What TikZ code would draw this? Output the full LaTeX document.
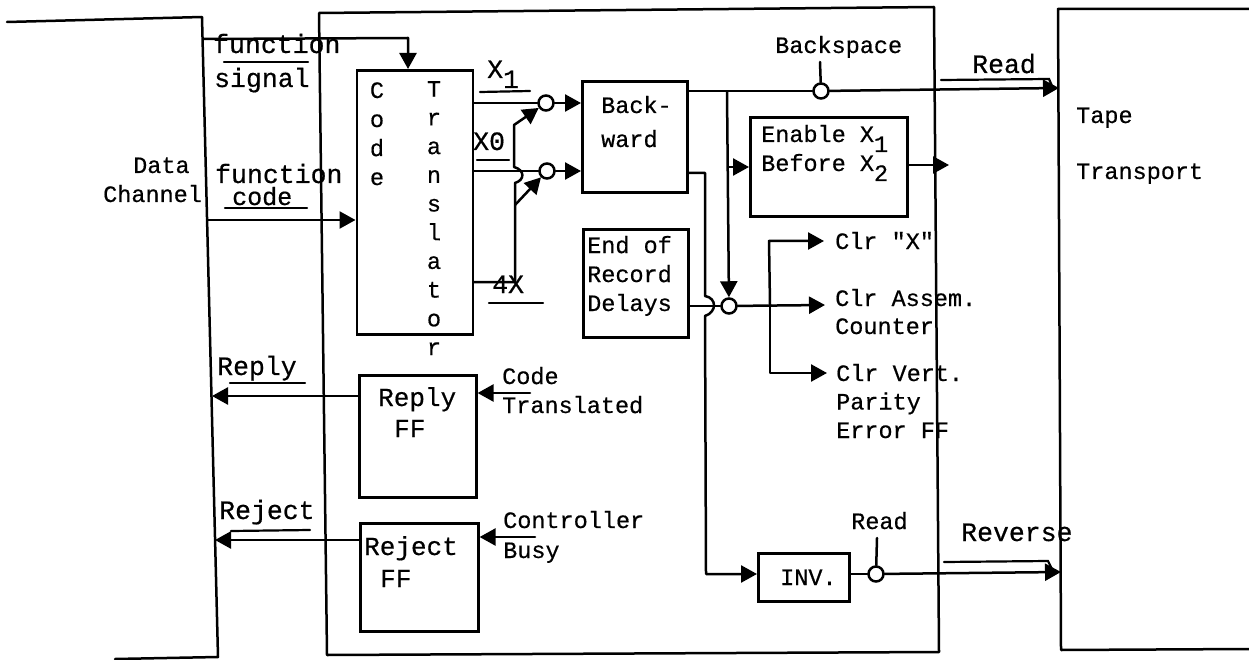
\documentclass[tikz,border=0pt]{standalone}
\usepackage{fontspec}
\setmainfont{Liberation Mono}[FakeBold=0.5]
\newfontfamily\plainq{Liberation Mono}[FakeBold=0.5]
\usetikzlibrary{arrows.meta}
\newcommand{\lowered}[1]{\raisebox{-10pt}{#1}}
\tikzset{
  ln/.style={line width=2.5pt,line join=round,line cap=round},
  thinline/.style={line width=2.2pt,line cap=round},
  arr/.style={ln,-{Triangle[length=16pt,width=17pt]}},
  boxn/.style={draw,line width=2.6pt,anchor=north west,inner sep=0pt},
  bub/.style={draw,circle,fill=white,line width=2.5pt,minimum size=15pt,inner sep=0pt},
  txt/.style={anchor=base west,inner sep=0pt,align=left,font=\fontsize{23.5}{29}\selectfont},
  sig/.style={anchor=base west,inner sep=0pt,align=left,font=\fontsize{26.5}{33}\selectfont},
}
\begin{document}
\begin{tikzpicture}[x=1pt,y=-1pt]
\useasboundingbox (0,0) rectangle (1249,660);
% frames
\coordinate (dcTL) at (7,22); \coordinate (dcTR) at (202,17);
\coordinate (dcBR) at (218,657); \coordinate (dcBL) at (115,659);
\coordinate (mTL) at (319,13); \coordinate (mTR) at (934,7);
\coordinate (mBR) at (939,652); \coordinate (mBL) at (327,655);
\coordinate (tTL) at (1058,9); \coordinate (tTR) at (1249,9);
\coordinate (tBL) at (1061,650); \coordinate (tBR) at (1249,649);
\draw[ln] (dcTL) -- (dcTR) -- (dcBR) -- (dcBL);
\draw[ln] (mTL) -- (mTR) -- (mBR) -- (mBL) -- cycle;
\draw[ln] (tTR) -- (tTL) -- (tBL) -- (tBR);
% boxes
\node[boxn,minimum width=116pt,minimum height=264pt] (code) at (355.5,69) {};
\node[boxn,minimum width=105pt,minimum height=111pt] (back) at (581,80) {};
\node[boxn,minimum width=157pt,minimum height=99pt] (enable) at (749,116) {};
\node[boxn,minimum width=105pt,minimum height=108pt] (eor) at (582,228) {};
\node[boxn,minimum width=117pt,minimum height=122pt] (reply) at (358,374) {};
\node[boxn,minimum width=118pt,minimum height=108pt] (reject) at (359,522) {};
\node[boxn,minimum width=91pt,minimum height=48pt] (inv) at (757,552) {};
% bubbles
\node[bub] (c1) at (546,103) {};
\node[bub] (c2) at (547,171) {};
\node[bub] (c3) at (821,91) {};
\node[bub] (c4) at (729,306) {};
\node[bub] (c5) at (876,574) {};
% free ends
\coordinate (fsS) at (203,39); \coordinate (fsK) at (408,38);
\coordinate (fcS) at (208,220);
\coordinate (busA) at (515,205);
\coordinate (busT) at (514,125);
\coordinate (bsp) at (820,62);
\coordinate (rdp) at (877,538);
\coordinate (readE) at (1059,88);
\coordinate (revE) at (1061,572);
\coordinate (enE) at (949,165);
\coordinate (repE) at (212,396);
\coordinate (rejE) at (215,540);
\coordinate (ctE) at (530,393);
\coordinate (cbE) at (535,537);
\coordinate (br1) at (727,92);
\coordinate (br2) at (728,167);
\coordinate (clrT) at (769,241);
\coordinate (clrM) at (770,305);
\coordinate (clrB) at (770,373);
\coordinate (tXe) at (824,241);
\coordinate (tAe) at (825,305);
\coordinate (tVe) at (827,373);
% connectors
\draw[arr] (fsS) -- (fsK) -- (code.north -| fsK);
\draw[arr] (fcS) -- (code.west |- fcS);
\draw[ln] (code.east |- c1) -- (c1);
\draw[ln] (code.east |- c2) -- (c2);
\draw[arr] (c1) -- (back.west |- c1);
\draw[arr] (c2) -- (back.west |- c2);
\draw[arr] (code.east |- 0,282) -- (515,282) -- (busA) -- (515,183)
  .. controls (525,180) and (525,170) .. (514,167) -- (busT) -- (c1);
\draw[arr] (busA) -- (c2);
\draw[ln] (back.east |- c3) -- (c3);
\draw[arr] (c3) -- (readE);
\draw[ln] (bsp) -- (c3);
\draw[arr] (br1) -- (c4);
\draw[arr] (br2) -- (enable.west |- br2);
\draw[arr] (enable.east |- enE) -- (enE);
\draw[arr] (back.east |- 0,173) -- (705,173) -- (705,296)
  .. controls (717,298) and (717,312) .. (705,316) -- (706,574) -- (inv.west |- c5);
\draw[ln] (eor.east |- c4) -- (c4);
\draw[arr] (c4) -- (tAe);
\draw[arr] (clrM) -- (clrT) -- (tXe);
\draw[arr] (clrM) -- (clrB) -- (tVe);
\draw[ln] (inv.east |- c5) -- (c5);
\draw[arr] (c5) -- (revE);
\draw[ln] (rdp) -- (c5);
\draw[arr] (reply.west |- repE) -- (repE);
\draw[arr] (reject.west |- rejE) -- (rejE);
\draw[arr] (ctE) -- (reply.east |- ctE);
\draw[arr] (cbE) -- (reject.east |- cbE);
% underlines
\draw[thinline] (224,62) -- (308,62);
\draw[thinline] (225,208) -- (307,208);
\draw[thinline] (480,92) -- (530,91);
\draw[thinline] (477,160) -- (509,160);
\draw[thinline] (489,303) -- (543,303);
\draw[thinline] (230,383) -- (305,383);
\draw[thinline] (231,531) -- (310,530);
\draw[thinline] (941,80) -- (1049,79) -- (1052,86);
\draw[thinline] (944,562) -- (1048,561) -- (1052,569);
% text
\node[txt] (tData) at (103,202) {\hspace*{30pt}Data\\Channel};
\node[sig] (tFn) at (213,53) {function};
\node[sig] (tSg) at (214,87) {signal};
\node[sig] (tFn2) at (215,183) {function};
\node[sig,font=\fontsize{25}{30}\selectfont] (tCd) at (232,205) {code};
\node[txt,align=center,anchor=base,font=\fontsize{23.5}{29}\selectfont] (tCode) at (377,185) {C\\o\\d\\e};
\node[txt,align=center,anchor=base,font=\fontsize{23.5}{28.7}\selectfont] (tTrans) at (434,355) {T\\r\\a\\n\\s\\l\\a\\t\\o\\r};
\node[sig] (tX1) at (487,78) {X\lowered{1}};
\node[sig] (tX0) at (473,150) {X0};
\node[sig] (t4X) at (492,293) {4X};
\node[txt,font=\fontsize{23.5}{34}\selectfont] (tBack) at (601,147) {Back-\\ward};
\node[txt] (tBsp) at (775,53) {Backspace};
\node[sig] (tRead) at (972,73) {Read};
\node[txt] (tEn) at (761,171) {Enable X\lowered{1}\\Before X\lowered{2}};
\node[txt] (tEor) at (587,311) {End of\\Record\\Delays};
\node[txt] (tClrX) at (835,249) {Clr {\plainq "X"}};
\node[txt,font=\fontsize{23.5}{28}\selectfont] (tClrA) at (835,334) {Clr Assem.\\Counter};
\node[txt,font=\fontsize{23.5}{28.5}\selectfont] (tClrV) at (836,438) {Clr Vert.\\Parity\\Error FF};
\node[txt,font=\fontsize{23.5}{56}\selectfont] (tTape) at (1076,179) {Tape\\Transport};
\node[sig] (tRp) at (217,375) {Reply};
\node[sig] (tRj) at (219,519) {Reject};
\node[sig,font=\fontsize{26}{31}\selectfont] (tRpF) at (378,437) {Reply\\\hspace*{16pt}FF};
\node[sig,font=\fontsize{26}{32}\selectfont] (tRjF) at (364,587) {Reject\\\hspace*{16pt}FF};
\node[txt] (tCT) at (502,413) {Code\\Translated};
\node[txt,font=\fontsize{23.5}{30}\selectfont] (tCB) at (503,558) {Controller\\Busy};
\node[txt] (tInv) at (780,585) {INV.};
\node[txt] (tRd2) at (851,529) {Read};
\node[sig] (tRev) at (961,541) {Reverse};
\end{tikzpicture}
\end{document}
